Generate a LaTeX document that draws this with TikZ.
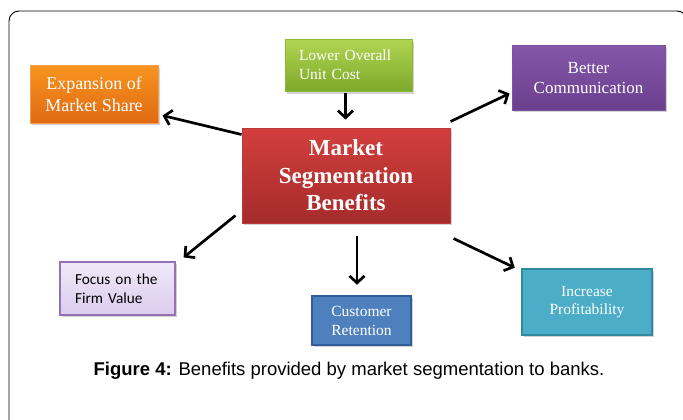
\documentclass[tikz,border=0pt]{standalone}
\usepackage{fontspec}
\setmainfont{Liberation Serif}
\newfontfamily\capfont{Liberation Sans}
\newfontfamily\calfont{Carlito}
\usetikzlibrary{arrows.meta,calc,shadows}
\definecolor{orgA}{HTML}{F7931E}\definecolor{orgB}{HTML}{E06A14}\definecolor{orgD}{HTML}{F5A04A}
\definecolor{grnA}{HTML}{AFD451}\definecolor{grnB}{HTML}{7EA82A}\definecolor{grnD}{HTML}{8CB83A}
\definecolor{purA}{HTML}{8556A8}\definecolor{purB}{HTML}{6A3F8E}\definecolor{purD}{HTML}{7A55A0}
\definecolor{redA}{HTML}{D23F3D}\definecolor{redB}{HTML}{A62B2B}\definecolor{redD}{HTML}{C0393A}
\definecolor{lavA}{HTML}{F0E9F8}\definecolor{lavB}{HTML}{DCCBEE}\definecolor{lavD}{HTML}{9472B5}
\definecolor{bluA}{HTML}{4F80BE}\definecolor{bluD}{HTML}{2F5E98}
\definecolor{tealA}{HTML}{4BADC7}\definecolor{tealD}{HTML}{2F8AA0}
\tikzset{
  box/.style={rectangle, inner sep=2pt, text=white, font=\fontsize{15.5}{19}\selectfont,
    drop shadow={shadow xshift=2pt, shadow yshift=-2pt, opacity=0.35}},
  conn/.style={line width=2.7pt, -{Straight Barb[length=7pt,width=15pt,line width=2.7pt]}},
}
\begin{document}
\begin{tikzpicture}[x=1pt,y=-1pt]
\useasboundingbox (0,0) rectangle (683,420);
\begin{scope}
\clip (0,0) rectangle (683,420);
\draw[line width=0.9pt, rounded corners=10pt, fill=white] (9,11) rectangle (687,450);
\end{scope}
% nodes
\node[box, draw=orgD, line width=1pt, top color=orgA, bottom color=orgB,
  minimum width=128pt, minimum height=57pt, align=center,
  font=\fontsize{18}{22}\selectfont] (orange) at (94,94.5)
  {Expansion of\\Market Share};
\node[box, draw=grnD, line width=1pt, top color=grnA, bottom color=grnB,
  inner xsep=14pt, text width=99pt, minimum height=52pt, align=left] (green) at (348.5,66)
  {\raisebox{-2pt}[0pt][0pt]{\parbox{99pt}{Lower Overall\\Unit Cost}}};
\node[box, draw=purD, line width=1pt, top color=purA, bottom color=purB,
  minimum width=153pt, minimum height=64pt, align=center,
  font=\fontsize{17}{20}\selectfont] (purple) at (588.5,78)
  {Better\\Communication};
\node[box, draw=redD, line width=1pt, top color=redA, bottom color=redB,
  minimum width=208pt, minimum height=95pt, align=center,
  font=\bfseries\fontsize{23}{27.5}\selectfont] (red) at (346,175.5)
  {Market\\Segmentation\\Benefits};
\node[box, draw=lavD, line width=1.2pt, top color=lavA, bottom color=lavB, text=black,
  inner xsep=15pt, text width=85pt, minimum height=53pt, align=left,
  font=\calfont\fontsize{15.3}{19}\selectfont] (focus) at (117.5,288.5)
  {Focus on the\\Firm Value};
\node[box, draw=bluD, line width=2.5pt, fill=bluA,
  minimum width=99pt, minimum height=49pt, align=center] (cust) at (361.5,320.5)
  {\raisebox{-4pt}[0pt][0pt]{\parbox{90pt}{\centering Customer\\Retention}}};
\node[box, draw=tealD, line width=2.5pt, fill=tealA,
  minimum width=130pt, minimum height=66pt, align=center,
  font=\fontsize{15.5}{17.5}\selectfont] (teal) at (587,302)
  {Increase\\Profitability};
% connectors
\draw[conn] ($(green.south)+(-3,1)$) -- ($(green.south |- red.north)+(-3,-8)$);
\draw[conn] ($(red.north west)+(0,7)$) -- ($(orange.south east)+(4,-8)$);
\draw[conn] ($(red.north east)+(0,-6)$) -- ($(purple.south west)+(-2,-17)$);
\draw[conn] ($(red.south west)+(-6,-8)$) -- ($(focus.north east)+(8,-4)$);
\draw[conn] ($(red.south)+(11,12)$) -- ($(cust.north)+(-4.5,-10)$);
\draw[conn] ($(red.south east)+(3,15)$) -- ($(teal.north west)+(-6,0)$);
% caption
\node[font=\capfont\fontsize{18.5}{21}\selectfont, inner sep=0pt] (cap) at (349,371)
  {\textbf{Figure 4:} Benefits provided by market segmentation to banks.};
\end{tikzpicture}
\end{document}
